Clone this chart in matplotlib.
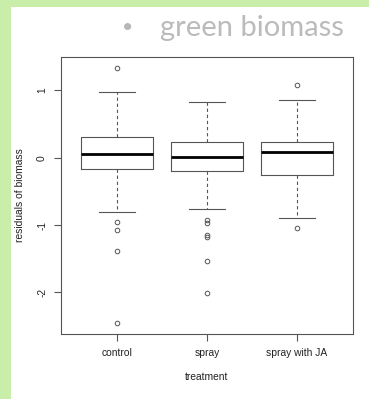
import matplotlib.pyplot as plt
from matplotlib.patches import Rectangle

# boxplot statistics (residuals of biomass)
groups = ['control', 'spray', 'spray with JA']
whislo = [-0.80, -0.76, -0.90]
q1 = [-0.17, -0.20, -0.26]
med = [0.05, 0.015, 0.09]
q3 = [0.31, 0.24, 0.23]
whishi = [0.97, 0.82, 0.85]
fliers = [
    [1.33, -0.96, -1.08, -1.38, -2.46],
    [-0.93, -0.97, -1.15, -1.18, -1.54, -2.01],
    [1.08, -1.04],
]
yticks = [-2, -1, 0, 1]

fig = plt.figure(figsize=(3.69, 3.99), dpi=100)
fig.patch.set_facecolor('white')

# slide background: green strips on left and top
green = '#c8eeaa'
fig.patches.append(Rectangle((0, 0), 11 / 369, 1, transform=fig.transFigure,
                             facecolor=green, edgecolor='none', zorder=0))
fig.patches.append(Rectangle((0, 1 - 7 / 399), 1, 7 / 399, transform=fig.transFigure,
                             facecolor=green, edgecolor='none', zorder=0))

fig.text(128 / 369, 1 - 27 / 399, '\u2022', fontsize=14, color='#b8b8b8',
         family='Lato', ha='center', va='center')
fig.text(160 / 369, 1 - 28 / 399, 'green biomass', fontsize=21, color='#bbbbbb',
         family='Lato', ha='left', va='center')

ax = fig.add_axes([61 / 369, 65 / 399, 291.7 / 369, 277 / 399])

stats = []
for i, g in enumerate(groups):
    stats.append(dict(label=g, whislo=whislo[i], q1=q1[i], med=med[i],
                      q3=q3[i], whishi=whishi[i], fliers=fliers[i]))

line_col = '#555555'
ax.bxp(stats, positions=[1, 2, 3], widths=0.8, patch_artist=False,
       boxprops=dict(color=line_col, linewidth=0.8),
       medianprops=dict(color='black', linewidth=2.0),
       whiskerprops=dict(color=line_col, linewidth=0.8, linestyle=(0, (3, 2.5))),
       capprops=dict(color=line_col, linewidth=0.8),
       capwidths=0.4,
       flierprops=dict(marker='o', markersize=3.3, markerfacecolor='none',
                       markeredgecolor=line_col, markeredgewidth=0.7))

ax.set_xlim(0.38, 3.62)
ax.set_ylim(-2.616, 1.494)
ax.set_yticks(yticks)
ax.set_yticklabels([str(t) for t in yticks], rotation=90, va='center')
ax.set_xticks([1, 2, 3])
ax.set_xticklabels(groups)

for s in ax.spines.values():
    s.set_color(line_col)
    s.set_linewidth(0.8)
ax.tick_params(axis='both', colors=line_col, length=5, width=0.8, labelsize=7.4,
               labelcolor='#222222', pad=5)
for lab in ax.get_xticklabels() + ax.get_yticklabels():
    lab.set_family('Liberation Sans')

ax.set_xlabel('treatment', fontsize=7.4, family='Liberation Sans', color='#222222',
              labelpad=10)
ax.set_ylabel('residuals of biomass', fontsize=7.4, family='Liberation Sans',
              color='#222222', labelpad=9)

fig.savefig('out.png', dpi=100)
